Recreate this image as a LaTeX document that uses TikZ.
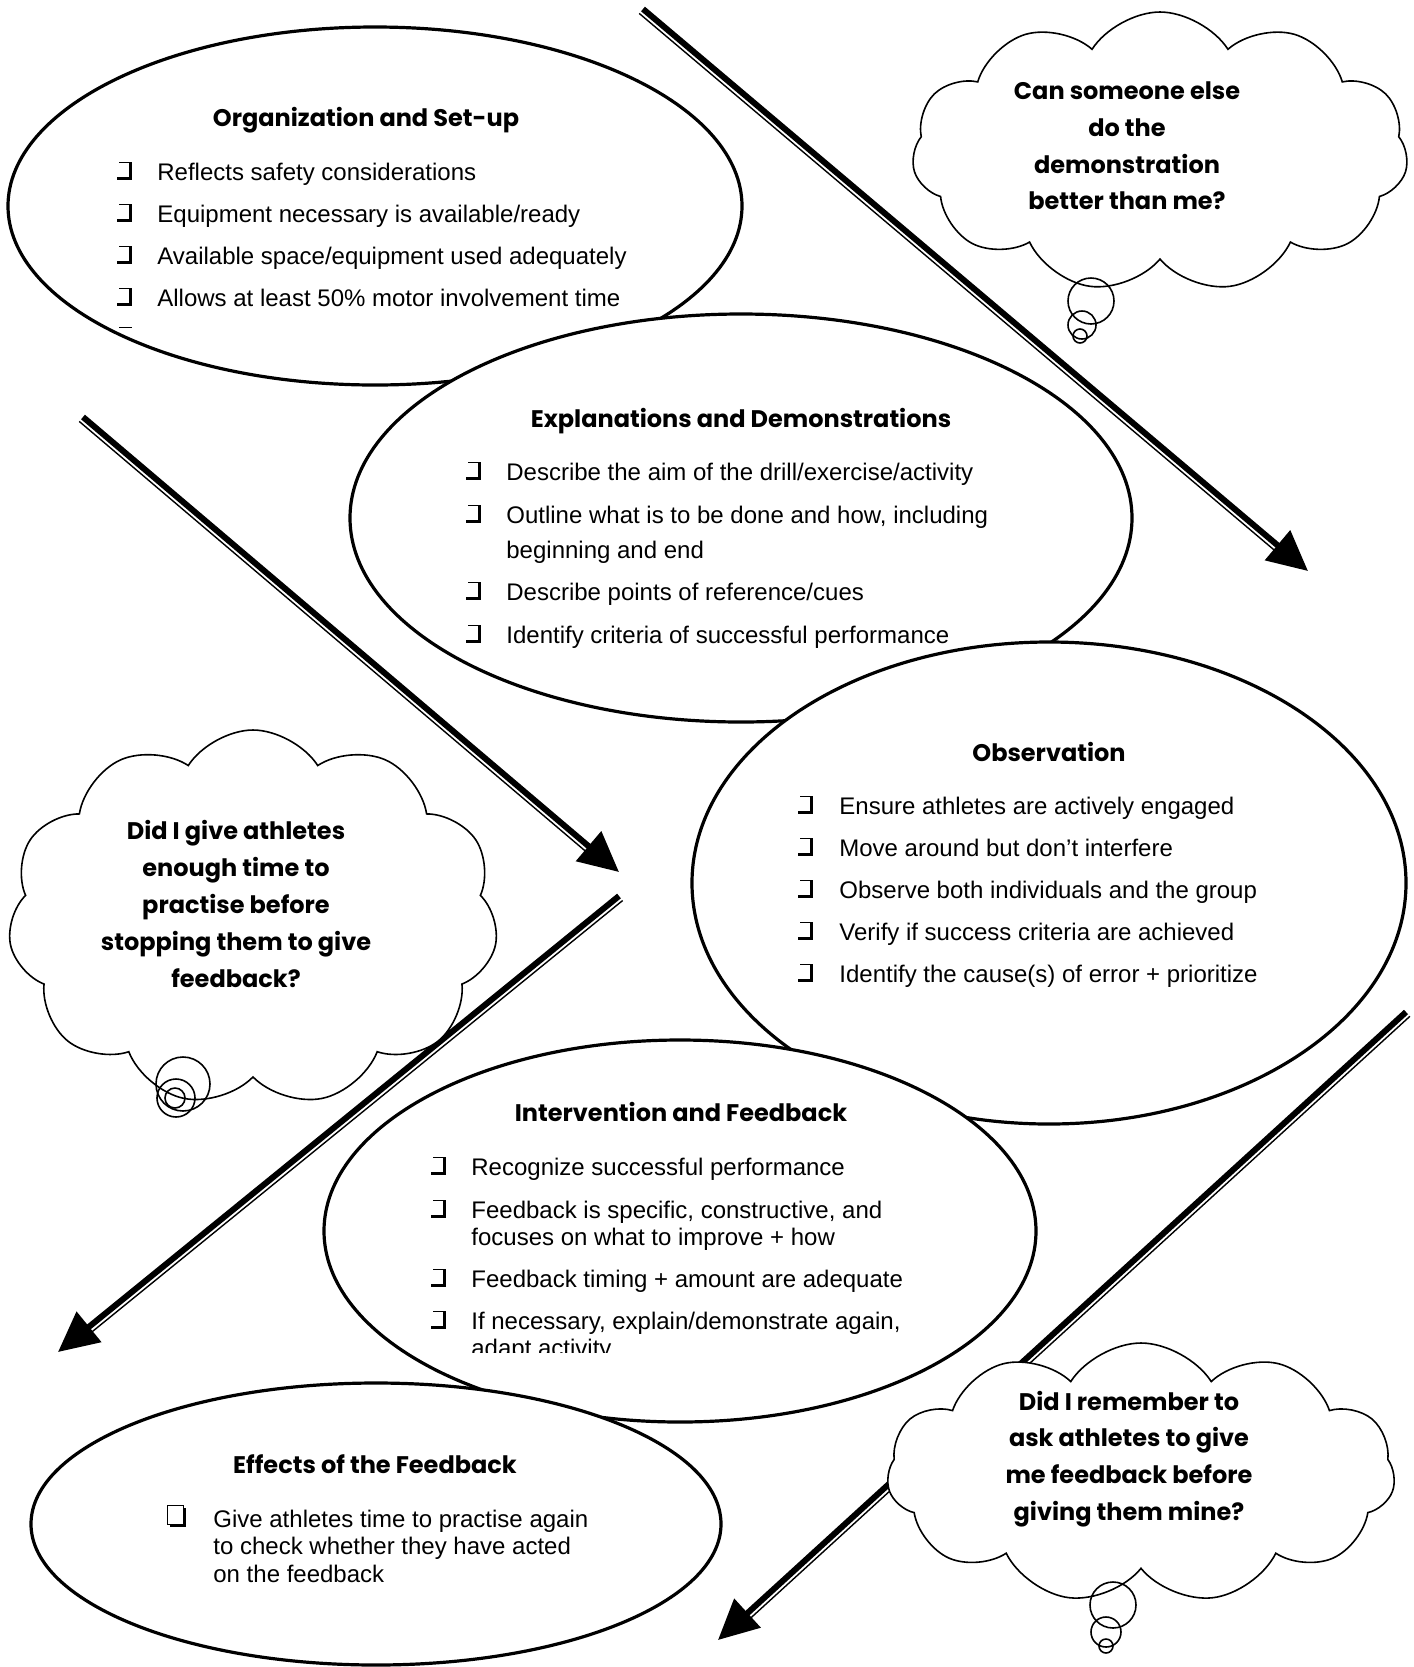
\documentclass[tikz,border=0pt]{standalone}
\usepackage{fontspec}
\setmainfont{Liberation Sans}
\newfontfamily\comicfont{Poppins}
\usetikzlibrary{shapes.geometric, shapes.symbols, arrows.meta, calc}
\tikzstyle{oval} = [ellipse, draw, line width=1.6pt, fill=white, inner sep=0pt]
\tikzstyle{thought} = [cloud, draw, line width=0.8pt, fill=white, cloud puffs=11,
    cloud puff arc=115, cloud ignores aspect, inner sep=0pt]
\tikzstyle{puff} = [circle, draw, line width=0.8pt, inner sep=0pt]
\tikzset{
  chk/.pic = {
    \draw[line width=0.5pt] (2,-18) -- (14,-18);
    \draw[line width=1.6pt] (13.4,-18) -- (13.4,-1.6) -- (0,-1.6);
  },
  chkbox/.pic = {
    \draw[line width=0.5pt] (0,-22) rectangle (16.5,-3);
    \draw[line width=1.6pt] (17.4,-19) -- (17.4,-1.6) -- (3,-1.6);
  }
}
\begin{document}
\begin{tikzpicture}[x=0.5pt, y=-0.5pt,
    head/.style = {anchor=base, inner sep=0pt, font=\comicfont\bfseries\fontsize{12}{14}\selectfont},
    itm/.style = {anchor=base west, inner sep=0pt, font=\fontsize{12}{13.8}\selectfont},
    think/.style = {align=center, inner sep=0pt, font=\comicfont\bfseries\fontsize{12}{18.4}\selectfont},
    arrowline/.style = {line width=3pt, -{Triangle[length=20pt, width=19pt]}},
  ]
\useasboundingbox (0,0) rectangle (1414,1667);

% organization
\node [oval, minimum width=367pt, minimum height=179pt] (org) at (375,206) {};
\node [head] (orgtitle) at (366,126) {Organization and Set-up};
\foreach \y/\txt [count=\i] in {180/{Reflects safety considerations},
    222/{Equipment necessary is available/ready},
    264/{Available space/equipment used adequately},
    306/{Allows at least 50\% motor involvement time}} {
  \pic at (117,\y) {chk};
  \node [itm] (org\i) at (157,\y) {\txt};
}
\begin{scope}
  \clip (100,300) rectangle (700,327.5);
  \pic at (117,345) {chk};
\end{scope}

% explanations
\node [oval, minimum width=391pt, minimum height=204pt] (expl) at (741,518) {};
\node [head] (expltitle) at (741,427) {Explanations and Demonstrations};
\foreach \y/\txt [count=\i] in {480/{Describe the aim of the drill/exercise/activity},
    523/{\parbox[t]{320pt}{Outline what is to be done and how, including\\[3.7pt]beginning and end}},
    600/{Describe points of reference/cues},
    643/{Identify criteria of successful performance}} {
  \pic at (466,\y) {chk};
  \node [itm] (expl\i) at (506,\y) {\txt};
}

% observation
\node [oval, minimum width=357pt, minimum height=241pt] (obs) at (1049,883) {};
\node [head] (obstitle) at (1049,761) {Observation};
\foreach \y/\txt [count=\i] in {814/{Ensure athletes are actively engaged},
    856/{Move around but don’t interfere},
    898/{Observe both individuals and the group},
    940/{Verify if success criteria are achieved},
    982/{Identify the cause(s) of error + prioritize}} {
  \pic at (798,\y) {chk};
  \node [itm] (obs\i) at (839,\y) {\txt};
}

% intervention
\node [oval, minimum width=356pt, minimum height=191pt] (int) at (680,1231) {};
\node [head] (inttitle) at (681,1121) {Intervention and Feedback};
\foreach \y/\txt [count=\i] in {1175/{Recognize successful performance},
    1218/{\parbox[t]{320pt}{Feedback is specific, constructive, and\\focuses on what to improve + how}},
    1287/{Feedback timing + amount are adequate}} {
  \pic at (431,\y) {chk};
  \node [itm] (int\i) at (471,\y) {\txt};
}
\begin{scope}
  \clip (400,1298) rectangle (1000,1352);
  \pic at (431,1329) {chk};
  \node [itm] (int4) at (471,1329) {\parbox[t]{320pt}{If necessary, explain/demonstrate again,\\adapt activity}};
\end{scope}

% effects
\node [oval, minimum width=345pt, minimum height=141pt] (eff) at (376,1524) {};
\node [head] (efftitle) at (375,1473) {Effects of the Feedback};
\pic at (167,1527) {chkbox};
\node [itm] (eff1) at (213,1527) {\parbox[t]{300pt}{Give athletes time to practise again\\to check whether they have acted\\on the feedback}};

% arrows
\coordinate (a1s) at (643,9);    \coordinate (a1e) at (1308,571);
\coordinate (a2s) at (83,417);   \coordinate (a2e) at (619,872);
\coordinate (a3s) at (619,896);  \coordinate (a3e) at (58,1352);
\coordinate (a4s) at (1406,1012); \coordinate (a4e) at (718,1640);
\foreach \s/\e/\side/\opp in {a1s/a1e/-90/90, a2s/a2e/-90/90, a3s/a3e/90/-90, a4s/a4e/90/-90} {
  \draw [arrowline] (\s) -- (\e);
  \draw [line width=0.7pt, shorten >=19pt] ($(\s)!2.9pt!\side:(\e)$) -- ($(\e)!2.9pt!\opp:(\s)$);
}

% thoughts
\node [thought, minimum width=248pt, minimum height=140pt] (cloudA) at (1160,152) {};
\node [think] (askA) at (1127,146) {Can someone else\\do the\\demonstration\\better than me?};
\node [puff, minimum size=23pt] (pA1) at (1091,301) {};
\node [puff, minimum size=14pt] (pA2) at (1082,325) {};
\node [puff, minimum size=7pt] (pA3) at (1080,336) {};

\node [thought, minimum width=245pt, minimum height=188pt] (cloudB) at (253,918) {};
\node [think] (askB) at (236,904) {Did I give athletes\\enough time to\\practise before\\stopping them to give\\feedback?};
\node [puff, minimum size=27pt] (pB1) at (183,1084) {};
\node [puff, minimum size=19pt] (pB2) at (176,1098) {};
\node [puff, minimum size=10pt] (pB3) at (175,1098) {};

\node [thought, minimum width=254pt, minimum height=130pt] (cloudC) at (1141,1473) {};
\node [think] (askC) at (1129,1459) {Did I remember to\\ask athletes to give\\me feedback before\\giving them mine?};
\node [puff, minimum size=23pt] (pC1) at (1113,1605) {};
\node [puff, minimum size=15pt] (pC2) at (1106,1632) {};
\node [puff, minimum size=7pt] (pC3) at (1106,1646) {};
\end{tikzpicture}
\end{document}
